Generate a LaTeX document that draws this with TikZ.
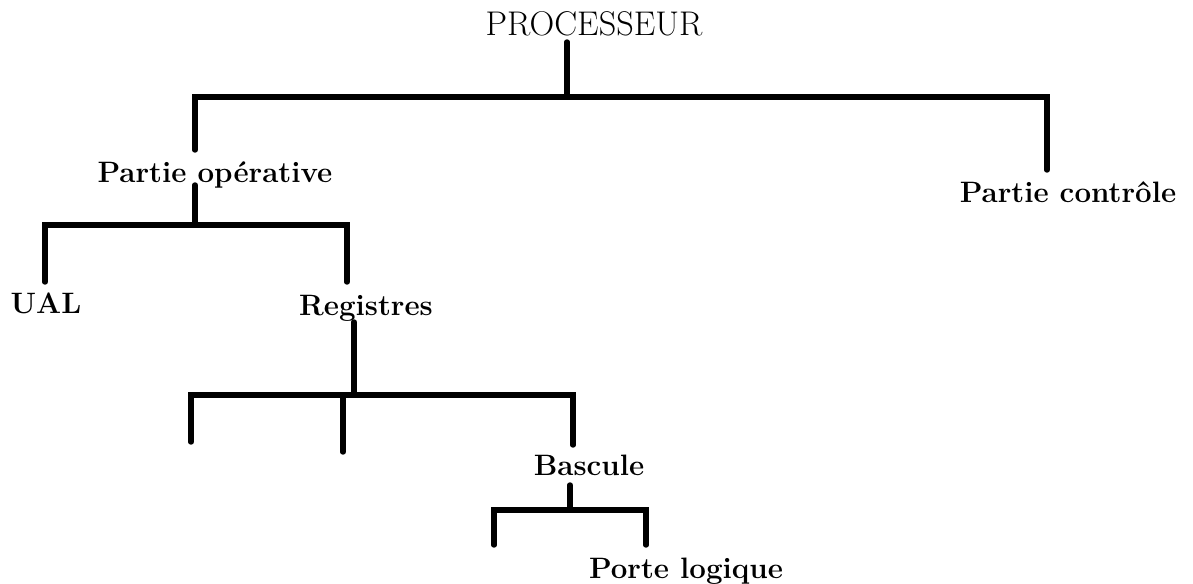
\documentclass[tikz,border=0pt]{standalone}
\usepackage{tikz}
\usepackage{xcolor}

\begin{document}
\begin{tikzpicture}[x=0.02cm, y=-0.02cm,
    top/.style={inner sep=0pt, anchor=base, font=\fontsize{19.5}{23}\selectfont},
    lbl/.style={inner sep=0pt, anchor=base, font=\fontsize{16.8}{20}\selectfont\bfseries},
    branch/.style={line width=3.1pt, line cap=round, line join=miter}]
  \useasboundingbox (0,0) rectangle (1193,584);

  \node[top] (proc)   at (594,36)  {PROCESSEUR};
  \node[lbl] (partop) at (215,183) {Partie op\'erative};
  \node[lbl] (partct) at (1068,203) {Partie contr\^ole};
  \node[lbl] (ual)    at (46,313)  {UAL};
  \node[lbl] (reg)    at (366,315) {Registres};
  \node[lbl] (basc)   at (589,475) {Bascule};
  \node[lbl] (porte)  at (686,578) {Porte logique};

  \coordinate (j0) at (567,97);
  \coordinate (j1) at (195,225);
  \coordinate (j2) at (354,395);
  \coordinate (j3) at (570,510);
  \coordinate (e1) at (191,442);
  \coordinate (e2) at (343,452);
  \coordinate (e3) at (494,545);

  \draw[branch] (proc.base -| j0) ++(0,6) -- (j0);
  \draw[branch] (partop.base -| 195,0) ++(0,-33) |- (j0);
  \draw[branch] (partct.base -| 1047,0) ++(0,-33) |- (j0);

  \draw[branch] (partop.base -| j1) ++(0,2) -- (j1);
  \draw[branch] (ual.base -| 45,0) ++(0,-31) |- (j1);
  \draw[branch] (reg.base -| 347,0) ++(0,-33) |- (j1);

  \draw[branch] (reg.base -| j2) ++(0,7) -- (j2);
  \draw[branch] (e1) |- (j2);
  \draw[branch] (e2) |- (j2);
  \draw[branch] (basc.base -| 573,0) ++(0,-30) |- (j2);

  \draw[branch] (basc.base -| j3) ++(0,10) -- (j3);
  \draw[branch] (e3) |- (j3);
  \draw[branch] (porte.base -| 646,0) ++(0,-33) |- (j3);
\end{tikzpicture}
\end{document}
